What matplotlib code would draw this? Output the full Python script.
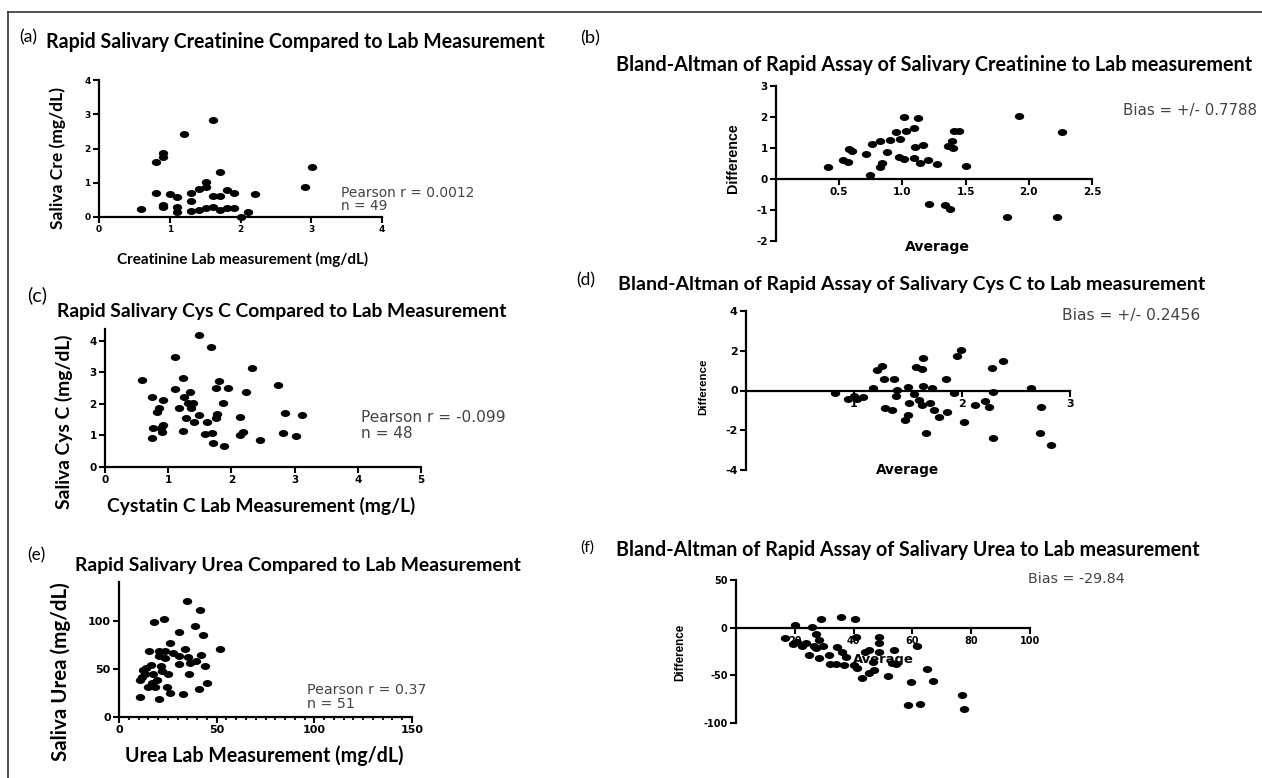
import matplotlib
matplotlib.use("Agg")
import matplotlib.pyplot as plt
from matplotlib.path import Path
from matplotlib.transforms import Affine2D
from matplotlib.lines import Line2D
from matplotlib.ticker import MultipleLocator

W, H = 1262, 778

# (a) creatinine: lab vs saliva
cre_lab = [0.60, 0.80, 0.91, 0.91, 0.80, 0.90, 0.91, 1.00, 1.10, 1.10, 1.10, 1.20, 1.30, 1.30, 1.30,
           1.41, 1.41, 1.51, 1.51, 1.51, 1.61, 1.61, 1.61, 1.71, 1.71, 1.71, 1.81, 1.81, 1.91, 1.91,
           2.01, 2.11, 2.21, 2.91, 3.01]
cre_saliva = [0.24, 1.62, 1.86, 1.76, 0.70, 0.35, 0.30, 0.67, 0.58, 0.29, 0.15, 2.43, 0.70, 0.46, 0.17,
              0.82, 0.20, 1.01, 0.89, 0.25, 2.82, 0.61, 0.30, 1.30, 0.61, 0.19, 0.78, 0.25, 0.70, 0.27,
              0.00, 0.14, 0.67, 0.89, 1.47]

# (b) creatinine Bland-Altman
cre_ba_avg = [0.41, 0.53, 0.57, 0.58, 0.60, 0.71, 0.74, 0.76, 0.82, 0.82, 0.84, 0.88, 0.90, 0.95, 0.97,
              0.98, 1.01, 1.01, 1.03, 1.09, 1.09, 1.10, 1.12, 1.14, 1.16, 1.20, 1.27, 1.36, 1.39, 1.40,
              1.41, 1.45, 1.50, 1.21, 1.34, 1.38, 1.83, 1.92, 2.22, 2.26]
cre_ba_diff = [0.39, 0.62, 0.55, 0.97, 0.90, 0.80, 0.12, 1.12, 1.22, 0.39, 0.53, 0.86, 1.26, 1.51, 0.70,
               1.30, 0.63, 1.99, 1.56, 0.69, 1.63, 1.03, 1.97, 0.52, 1.10, 0.62, 0.49, 1.05, 1.22, 1.00,
               1.56, 1.54, 0.41, -0.81, -0.85, -0.96, -1.23, 2.02, -1.21, 1.53]

# (c) cystatin C: lab vs saliva
cys_lab = [0.58, 0.74, 0.74, 0.76, 0.83, 0.85, 0.89, 0.90, 0.91, 0.91, 1.10, 1.11, 1.17, 1.23, 1.24,
           1.25, 1.28, 1.31, 1.34, 1.36, 1.39, 1.41, 1.48, 1.49, 1.58, 1.62, 1.67, 1.69, 1.71, 1.75,
           1.76, 1.78, 1.81, 1.86, 1.88, 1.95, 2.14, 2.14, 2.18, 2.23, 2.33, 2.46, 2.73, 2.82, 2.85,
           3.02, 3.11]
cys_saliva = [2.76, 2.23, 0.92, 1.22, 1.75, 1.86, 1.22, 1.11, 2.12, 1.33, 3.48, 2.47, 1.86, 1.14, 2.81,
              2.23, 1.54, 2.02, 2.39, 1.86, 2.02, 1.43, 4.19, 1.64, 1.03, 1.43, 3.79, 1.08, 0.76, 1.54,
              2.49, 1.67, 2.71, 2.02, 0.67, 2.49, 1.59, 1.01, 1.11, 2.36, 3.15, 0.85, 2.60, 1.08, 1.72,
              0.99, 1.64]

# (d) cystatin C Bland-Altman
cys_ba_avg = [0.82, 0.94, 1.00, 1.03, 1.08, 1.18, 1.21, 1.26, 1.28, 1.29, 1.35, 1.37, 1.39, 1.40, 1.47,
              1.50, 1.50, 1.51, 1.57, 1.56, 1.60, 1.63, 1.63, 1.64, 1.64, 1.67, 1.70, 1.72, 1.74, 1.79,
              1.85, 1.86, 1.93, 1.95, 1.99, 2.02, 2.12, 2.21, 2.25, 2.28, 2.29, 2.29, 2.38, 2.64, 2.72,
              2.73, 2.82]
cys_ba_diff = [-0.13, -0.44, -0.27, -0.44, -0.35, 0.12, 1.04, 1.21, 0.57, -0.89, -0.98, 0.59, -0.27, 0.03, -1.48,
               -1.23, 0.20, -0.64, 1.16, -0.17, -0.47, 1.09, -0.72, 1.63, 0.24, -2.15, -0.64, 0.15, -0.98, -1.31,
               0.57, -1.06, -0.13, 1.75, 2.05, -1.57, -0.72, -0.52, -0.84, 1.13, -0.10, -2.37, 1.50, 0.15, -2.12,
               -0.81, -2.74]

# (e) urea: lab vs saliva
urea_lab = [10.9, 10.5, 11.9, 12.2, 13.4, 13.9, 14.8, 15.6, 16.2, 17.0, 17.3, 17.7, 18.2, 19.4, 20.7,
            20.4, 20.7, 21.6, 22.1, 22.8, 23.3, 23.8, 24.5, 25.0, 25.9, 26.2, 27.6, 30.6, 30.9, 30.9,
            33.0, 34.0, 34.7, 35.1, 35.7, 36.1, 39.1, 39.5, 40.8, 41.7, 42.0, 43.2, 44.0, 44.9, 51.7]
urea_saliva = [21.2, 38.5, 42.0, 49.0, 44.8, 50.7, 31.6, 68.8, 54.2, 35.1, 44.8, 98.3, 31.6, 38.5, 18.4,
               62.8, 68.8, 52.4, 47.2, 101.7, 61.1, 68.8, 31.6, 44.4, 76.7, 24.7, 66.3, 87.8, 62.8, 54.9,
               24.0, 70.5, 119.8, 61.8, 44.8, 55.9, 94.1, 57.6, 29.2, 110.8, 64.6, 85.4, 52.4, 35.1, 70.5]

# (f) urea Bland-Altman
urea_ba_avg = [16.6, 19.9, 19.3, 20.9, 22.6, 23.9, 24.9, 25.7, 26.4, 27.2, 27.2, 28.4, 28.4, 29.0, 29.5,
               31.8, 32.1, 34.0, 34.5, 35.6, 36.0, 36.6, 37.5, 40.1, 40.4, 40.9, 41.2, 42.7, 43.9, 45.4,
               45.4, 46.7, 46.9, 48.8, 48.8, 48.8, 51.8, 53.0, 53.8, 54.3, 58.4, 59.6, 61.7, 62.6, 64.9,
               67.0, 76.9, 77.7]
urea_ba_diff = [-10.5, 2.8, -17.4, -14.6, -19.2, -15.7, -28.6, 0.3, -19.2, -7.0, -21.6, -12.9, -32.1, 8.7, -19.2,
                -28.6, -38.0, -38.0, -19.9, 10.8, -25.1, -39.0, -30.3, -39.0, 9.1, -9.4, -42.5, -53.0, -25.1, -23.3,
                -47.7, -35.5, -44.3, -9.4, -16.4, -25.1, -51.2, -37.3, -23.3, -38.0, -81.5, -57.5, -19.2, -79.8, -43.2,
                -55.7, -70.4, -85.0]

plt.rcParams['font.family'] = 'DejaVu Sans'
plt.rcParams['font.weight'] = 'bold'
plt.rcParams['axes.unicode_minus'] = False

fig = plt.figure(figsize=(W / 100, H / 100), dpi=100)
renderer = fig.canvas.get_renderer()

# GraphPad dots are a bit wider than tall in this figure
dot = Path.unit_circle().transformed(Affine2D().scale(1, 0.74))


def add_ax(xlim, ylim, x0, x1, ytop, ybot, ticksize=7.5):
    # place axes so that the data limits land on given pixel positions
    ax = fig.add_axes([x0 / W, 1 - ybot / H, (x1 - x0) / W, (ybot - ytop) / H])
    ax.set_xlim(xlim)
    ax.set_ylim(ylim)
    ax.patch.set_alpha(0)
    for s in ['top', 'right']:
        ax.spines[s].set_visible(False)
    for s in ['left', 'bottom']:
        ax.spines[s].set_linewidth(1.6)
    ax.tick_params(width=1.5, length=4, pad=2, labelsize=ticksize, colors='black')
    return ax


def put(x, y, s, width=None, height=None, **kw):
    # text in pixel coordinates, optionally scaled to a target length
    t = fig.text(x / W, 1 - y / H, s, **kw)
    if width or height:
        bb = t.get_window_extent(renderer)
        if width:
            t.set_fontsize(t.get_fontsize() * width / bb.width)
        else:
            t.set_fontsize(t.get_fontsize() * height / bb.height)
    return t


def dots(ax, x, y):
    ax.scatter(x, y, s=46, marker=dot, color='black', linewidths=0, clip_on=False, zorder=3)


title_kw = dict(family='Lato', weight='bold', va='center', ha='left', color='black')
panel_kw = dict(family='Lato', weight='normal', va='center', ha='left', fontsize=11, color='black')
note_kw = dict(family='DejaVu Sans', weight='normal', va='center', ha='left', color='#444444')
diff_kw = dict(family=['Liberation Sans Narrow', 'Liberation Sans'], weight='bold', rotation=90,
               ha='center', va='center')

# ---------------- (a) ----------------
ax = add_ax((0, 4), (0, 4), 99, 382, 80, 217, ticksize=6.5)
dots(ax, cre_lab, cre_saliva)
ax.set_xticks([0, 1, 2, 3, 4])
ax.set_yticks([0, 1, 2, 3, 4])
put(19, 37, '(a)', width=18, **panel_kw)
put(46, 42, 'Rapid Salivary Creatinine Compared to Lab Measurement', width=499, **title_kw)
put(58, 158, 'Saliva Cre (mg/dL)', height=142, family='Lato', weight='bold', rotation=90,
    ha='center', va='center')
put(243, 259, 'Creatinine Lab measurement (mg/dL)', width=253, family='Lato', weight='bold',
    ha='center', va='center')
t1 = put(341, 193, 'Pearson r = 0.0012', width=133, **note_kw)
t = put(341, 206, 'n = 49', **note_kw)
t.set_fontsize(t1.get_fontsize())

# ---------------- (b) ----------------
ax = add_ax((0, 2.5), (-2, 3), 776, 1092, 86, 241)
ax.spines['bottom'].set_position(('data', 0))
dots(ax, cre_ba_avg, cre_ba_diff)
ax.set_xticks([0.5, 1.0, 1.5, 2.0, 2.5], ['0.5', '1.0', '1.5', '2.0', '2.5'])
ax.set_yticks([-2, -1, 0, 1, 2, 3])
put(580, 38, '(b)', width=20, **panel_kw)
put(616, 65, 'Bland-Altman of Rapid Assay of Salivary Creatinine to Lab measurement', width=635,
    **title_kw)
put(733, 158, 'Difference', height=70, **diff_kw)
put(937, 247, 'Average', width=65, weight='bold', ha='center', va='center')
put(1123, 110, 'Bias = +/- 0.7788', width=134, **note_kw)

# ---------------- (c) ----------------
ax = add_ax((0, 5), (0, 4.37), 105, 421, 329, 467)
dots(ax, cys_lab, cys_saliva)
ax.set_xticks([0, 1, 2, 3, 4, 5])
ax.set_yticks([0, 1, 2, 3, 4])
put(27, 295, '(c)', width=20, **panel_kw)
put(57, 312, 'Rapid Salivary Cys C Compared to Lab Measurement', width=451, **title_kw)
put(64, 422, 'Saliva Cys C (mg/dL)', height=175, family='Lato', weight='bold', rotation=90,
    ha='center', va='center')
put(261, 506, 'Cystatin C Lab Measurement (mg/L)', width=309, family='Lato', weight='bold',
    ha='center', va='center')
t1 = put(361, 418, 'Pearson r = -0.099', width=144, **note_kw)
t = put(361, 433, 'n = 48', **note_kw)
t.set_fontsize(t1.get_fontsize())

# ---------------- (d) ----------------
ax = add_ax((0, 3), (-4, 4), 746, 1070, 311, 470, ticksize=8)
ax.spines['bottom'].set_position(('data', 0))
dots(ax, cys_ba_avg, cys_ba_diff)
ax.set_xticks([1, 2, 3])
ax.set_yticks([-4, -2, 0, 2, 4])
put(576, 280, '(d)', width=19, **panel_kw)
put(618, 284, 'Bland-Altman of Rapid Assay of Salivary Cys C to Lab measurement', width=585,
    **title_kw)
put(703, 387, 'Difference', height=56, **diff_kw)
put(907, 470, 'Average', width=63, weight='bold', ha='center', va='center')
put(1062, 315, 'Bias = +/- 0.2456', width=138, **note_kw)

# ---------------- (e) ----------------
ax = add_ax((0, 150), (0, 140), 119, 412, 582, 717, ticksize=8)
dots(ax, urea_lab, urea_saliva)
ax.set_xticks([0, 50, 100, 150])
ax.xaxis.set_minor_locator(MultipleLocator(5))
ax.tick_params(axis='x', which='minor', width=1.3, length=2.5)
ax.set_yticks([0, 50, 100])
put(27, 555, '(e)', width=18, **panel_kw)
put(75, 566, 'Rapid Salivary Urea Compared to Lab Measurement', width=447, **title_kw)
put(61, 672, 'Saliva Urea (mg/dL)', height=179, family='Lato', weight='bold', rotation=90,
    ha='center', va='center')
put(264, 756, 'Urea Lab Measurement (mg/dL)', width=279, family='Lato', weight='bold',
    ha='center', va='center')
t1 = put(307, 690, 'Pearson r = 0.37', width=119, **note_kw)
t = put(307, 704, 'n = 51', **note_kw)
t.set_fontsize(t1.get_fontsize())

# ---------------- (f) ----------------
ax = add_ax((0, 100), (-100, 50), 736, 1030, 580, 723, ticksize=7)
ax.spines['bottom'].set_position(('data', 0))
dots(ax, urea_ba_avg, urea_ba_diff)
ax.set_xticks([20, 40, 60, 80, 100])
ax.set_yticks([-100, -50, 0, 50])
put(580, 548, '(f)', width=14, **panel_kw)
put(616, 550, 'Bland-Altman of Rapid Assay of Salivary Urea to Lab measurement', width=584,
    **title_kw)
put(680, 652, 'Difference', height=57, **diff_kw)
put(883, 659, 'Average', width=61, weight='bold', ha='center', va='center')
put(1028, 579, 'Bias = -29.84', width=97, **note_kw)

# frame around the figure (top and left edges visible)
fig.add_artist(Line2D([8 / W, 8 / W], [0, 1 - 12 / H], color='#333333', lw=1.2))
fig.add_artist(Line2D([8 / W, 1], [1 - 12 / H, 1 - 12 / H], color='#333333', lw=1.2))

fig.savefig('out.png', dpi=100)
